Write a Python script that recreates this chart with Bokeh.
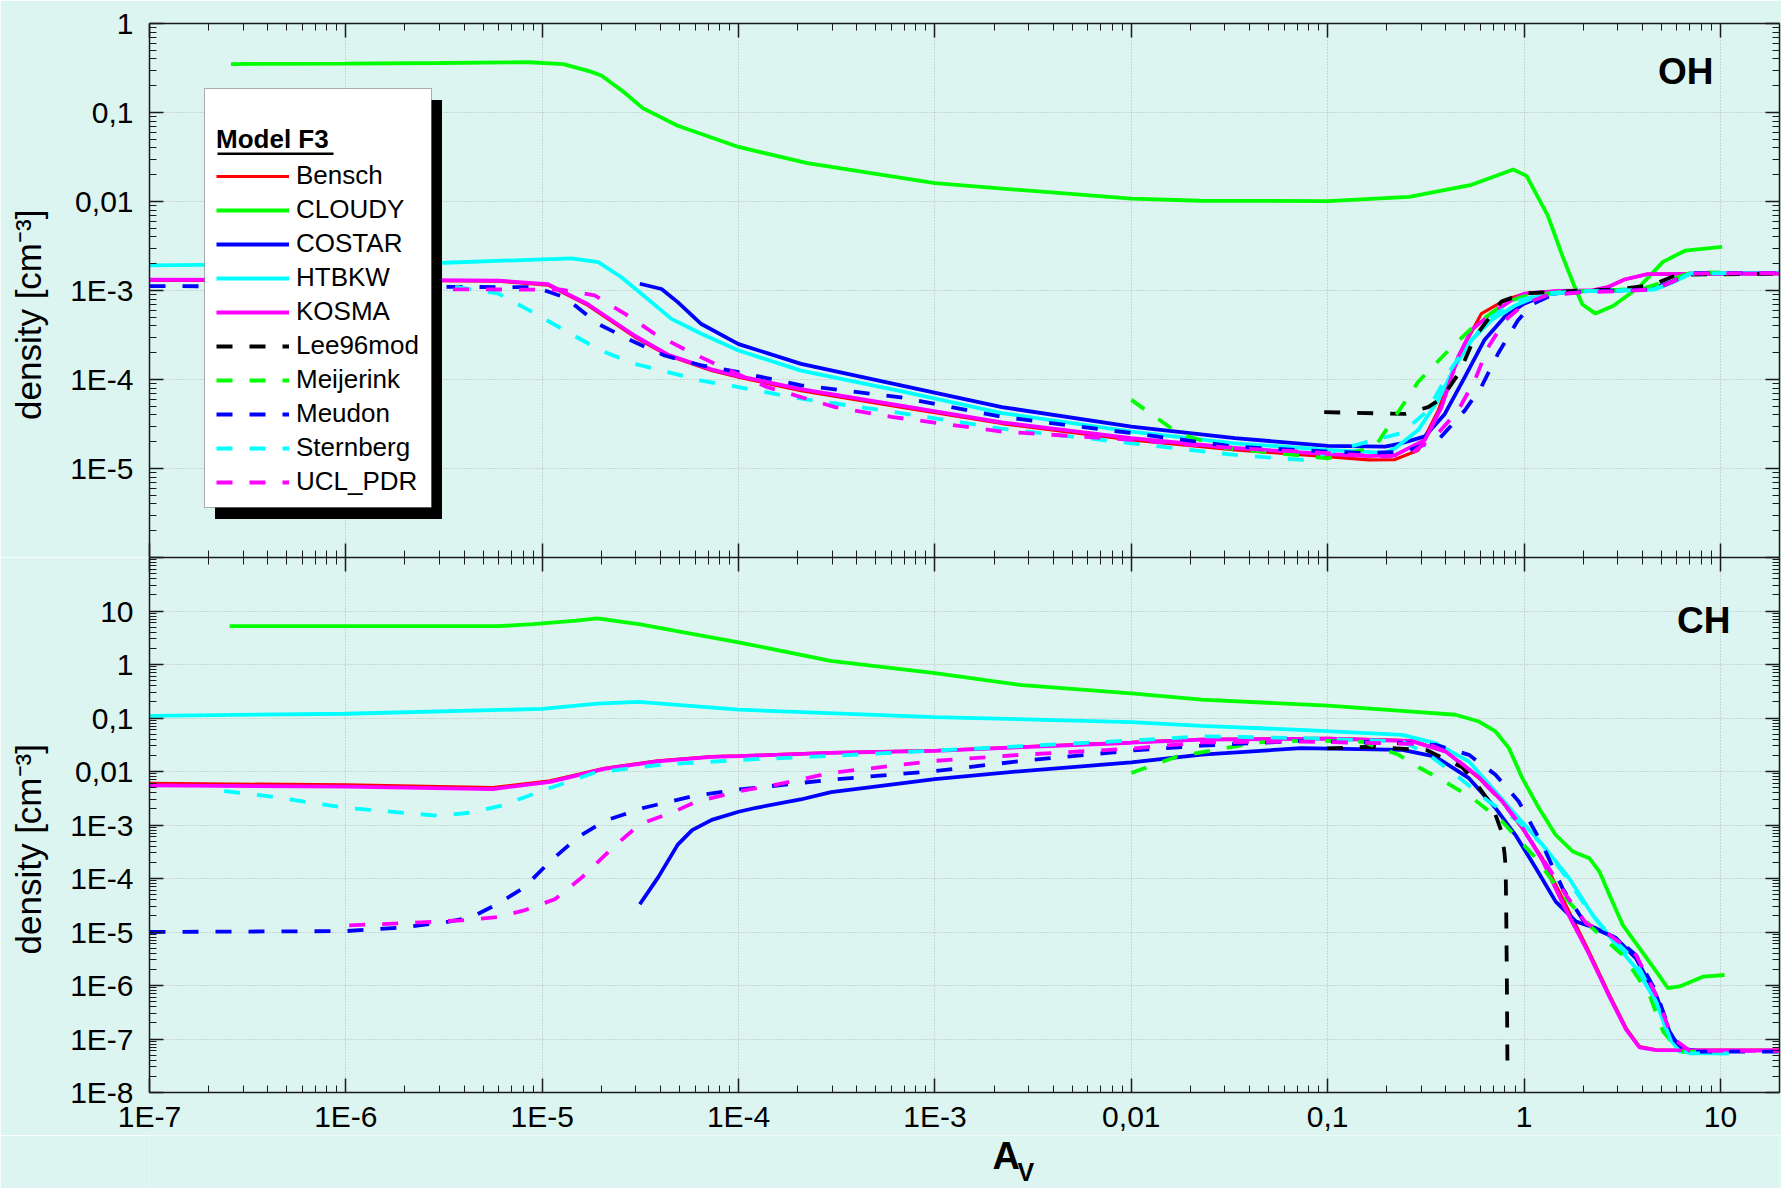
from bokeh.plotting import figure
from bokeh.models import (LogAxis, FixedTicker, CustomJSTickFormatter, CustomLabelingPolicy,
                          Legend, LegendItem, BoxAnnotation, Label, Range1d)
from bokeh.layouts import column
from bokeh.embed import file_html
from bokeh.resources import INLINE

# ---------------------------------------------------------------- data
MODELS = ["Bensch", "CLOUDY", "COSTAR", "HTBKW", "KOSMA",
          "Lee96mod", "Meijerink", "Meudon", "Sternberg", "UCL_PDR"]
COLORS = ["#FF0000", "#00FF00", "#0000FF", "#00FFFF", "#FF00FF",
          "#000000", "#00FF00", "#0000FF", "#00FFFF", "#FF00FF"]
DASHED = [False, False, False, False, False, True, True, True, True, True]

X_LO, X_HI = 1e-7, 20
OH_Y_LO, OH_Y_HI = 1e-6, 1
CH_Y_LO, CH_Y_HI = 1e-8, 100

# ---- OH panel
OH_BENSCH_X = [1e-7, 2.8e-6, 6e-6, 1.07e-5, 1.71e-5, 2.96e-5, 4.37e-5, 7.26e-5, 1e-4, 2.08e-4, 6.7e-4, 2.19e-3, 0.01, 0.0337, 0.1, 0.161, 0.22, 0.289, 0.366, 0.462, 0.607, 0.8, 1.0, 1.5, 2.2, 2.7, 3.25, 4.25, 20]
OH_BENSCH_Y = [1.3e-3, 1.29e-3, 1.27e-3, 1.15e-3, 6.8e-4, 3.0e-4, 1.86e-4, 1.26e-4, 1.06e-4, 7.5e-5, 4.9e-5, 3.2e-5, 2.1e-5, 1.62e-5, 1.36e-5, 1.25e-5, 1.26e-5, 1.6e-5, 4.5e-5, 1.8e-4, 5.5e-4, 7.8e-4, 9.2e-4, 9.9e-4, 1.0e-3, 1.1e-3, 1.33e-3, 1.53e-3, 1.55e-3]
OH_CLOUDY_X = [2.6e-7, 1e-6, 3e-6, 8.6e-6, 1.28e-5, 1.75e-5, 2e-5, 2.6e-5, 3.25e-5, 4.9e-5, 1e-4, 2.24e-4, 1e-3, 2.8e-3, 0.01, 0.0225, 0.1, 0.26, 0.54, 0.7, 0.88, 1.03, 1.32, 1.58, 1.81, 1.98, 2.31, 2.84, 3.87, 5.1, 6.6, 10.2]
OH_CLOUDY_Y = [0.35, 0.355, 0.36, 0.367, 0.35, 0.29, 0.26, 0.17, 0.112, 0.071, 0.041, 0.027, 0.0161, 0.0134, 0.0108, 0.0102, 0.0101, 0.0113, 0.0154, 0.019, 0.0229, 0.0194, 0.0070, 0.00234, 0.0011, 0.0007, 0.00055, 0.00067, 0.0011, 0.0021, 0.0028, 0.0031]
OH_COSTAR_X = [3.14e-5, 4.05e-5, 4.9e-5, 6.46e-5, 1e-4, 2.08e-4, 6.7e-4, 2.19e-3, 0.01, 0.0337, 0.1, 0.196, 0.238, 0.313, 0.395, 0.5, 0.63, 0.8, 1.0, 1.3, 1.8, 3.0, 4.5, 5.8, 7.0, 20]
OH_COSTAR_Y = [1.19e-3, 1.04e-3, 7.4e-4, 4.2e-4, 2.5e-4, 1.5e-4, 8.6e-5, 4.9e-5, 2.95e-5, 2.19e-5, 1.8e-5, 1.76e-5, 1.92e-5, 2.3e-5, 4.1e-5, 1.07e-4, 2.8e-4, 5.1e-4, 7.1e-4, 9.0e-4, 9.8e-4, 1.0e-3, 1.05e-3, 1.28e-3, 1.55e-3, 1.57e-3]
OH_HTBKW_X = [1e-7, 3.2e-6, 1.41e-5, 1.93e-5, 2.53e-5, 3.2e-5, 4.55e-5, 6.46e-5, 1e-4, 2.08e-4, 6.7e-4, 2.19e-3, 0.01, 0.0337, 0.1, 0.196, 0.22, 0.289, 0.366, 0.444, 0.54, 0.68, 0.9, 1.2, 1.8, 3.0, 4.6, 5.8, 7.0, 20]
OH_HTBKW_Y = [1.92e-3, 2.05e-3, 2.3e-3, 2.08e-3, 1.41e-3, 9.2e-4, 4.8e-4, 3.26e-4, 2.12e-4, 1.26e-4, 7.4e-5, 4.2e-5, 2.6e-5, 1.92e-5, 1.62e-5, 1.5e-5, 1.68e-5, 2.7e-5, 5.9e-5, 1.39e-4, 2.77e-4, 4.6e-4, 6.8e-4, 8.8e-4, 9.8e-4, 1.0e-3, 1.03e-3, 1.25e-3, 1.55e-3, 1.57e-3]
OH_KOSMA_X = [1e-7, 2.8e-6, 6e-6, 1.07e-5, 1.71e-5, 2.96e-5, 4.37e-5, 7.26e-5, 1e-4, 2.08e-4, 6.7e-4, 2.19e-3, 0.01, 0.0337, 0.1, 0.161, 0.22, 0.313, 0.38, 0.462, 0.54, 0.68, 0.85, 1.0, 1.5, 2.2, 2.7, 3.25, 4.25, 20]
OH_KOSMA_Y = [1.32e-3, 1.31e-3, 1.29e-3, 1.18e-3, 7.0e-4, 3.1e-4, 1.9e-4, 1.3e-4, 1.09e-4, 7.8e-5, 5.1e-5, 3.3e-5, 2.2e-5, 1.7e-5, 1.45e-5, 1.38e-5, 1.41e-5, 2.1e-5, 4.9e-5, 1.8e-4, 3.6e-4, 5.5e-4, 7.6e-4, 9.2e-4, 9.9e-4, 1.0e-3, 1.1e-3, 1.33e-3, 1.53e-3, 1.55e-3]
OH_LEE_X = [0.096, 0.247, 0.325, 0.38, 0.471, 0.561, 0.767, 1.0, 2.0, 3.0, 4.5, 6.0, 20]
OH_LEE_Y = [4.3e-5, 4.1e-5, 4.9e-5, 6.1e-5, 1.22e-4, 3.0e-4, 7.5e-4, 9.3e-4, 1.0e-3, 1.03e-3, 1.15e-3, 1.5e-3, 1.55e-3]
OH_MEIJ_X = [0.01, 0.0173, 0.03, 0.1, 0.174, 0.22, 0.289, 0.41, 0.583, 0.83, 1.0, 1.5, 2.5, 4.0, 5.5, 7.0, 10]
OH_MEIJ_Y = [5.9e-5, 2.5e-5, 1.7e-5, 1.3e-5, 1.75e-5, 3.8e-5, 9.4e-5, 2.1e-4, 4.4e-4, 7.5e-4, 8.6e-4, 9.6e-4, 1.0e-3, 1.05e-3, 1.3e-3, 1.57e-3, 1.6e-3]
OH_MEUDON_X = [1e-7, 9.2e-6, 1.3e-5, 1.93e-5, 2.84e-5, 4.2e-5, 6.46e-5, 1e-4, 2.08e-4, 6.7e-4, 2.19e-3, 0.01, 0.0337, 0.1, 0.161, 0.247, 0.366, 0.5, 0.607, 0.738, 0.93, 1.1, 1.4, 2.0, 3.0, 4.6, 5.8, 7.0, 20]
OH_MEUDON_Y = [1.12e-3, 1.09e-3, 8.4e-4, 4.2e-4, 2.74e-4, 1.86e-4, 1.44e-4, 1.21e-4, 8.6e-5, 6.3e-5, 3.8e-5, 2.5e-5, 1.76e-5, 1.55e-5, 1.49e-5, 1.55e-5, 2.1e-5, 4.5e-5, 8.3e-5, 1.96e-4, 4.6e-4, 7.0e-4, 9.0e-4, 9.7e-4, 1.0e-3, 1.03e-3, 1.28e-3, 1.57e-3, 1.57e-3]
OH_STERN_X = [2.4e-7, 3.7e-6, 6e-6, 9.2e-6, 1.35e-5, 2e-5, 2.96e-5, 4.37e-5, 6.46e-5, 1e-4, 2.08e-4, 6.7e-4, 2.19e-3, 0.01, 0.0337, 0.074, 0.161, 0.238, 0.325, 0.41, 0.52, 0.68, 0.9, 1.3, 2.0, 3.0, 4.6, 5.8, 7.0, 11]
OH_STERN_Y = [1.1e-3, 1.09e-3, 9.2e-4, 5.5e-4, 3.4e-4, 2.1e-4, 1.5e-4, 1.21e-4, 9.7e-5, 8.2e-5, 6.1e-5, 4.2e-5, 2.8e-5, 1.92e-5, 1.42e-5, 1.25e-5, 2.0e-5, 2.5e-5, 4.5e-5, 1.17e-4, 2.5e-4, 5.0e-4, 7.5e-4, 9.3e-4, 9.8e-4, 1.0e-3, 1.03e-3, 1.25e-3, 1.55e-3, 1.57e-3]
OH_UCL_X = [1.1e-6, 1.25e-5, 1.85e-5, 2.63e-5, 3.74e-5, 5.5e-5, 8.2e-5, 1.4e-4, 3.1e-4, 6e-4, 2.19e-3, 0.01, 0.0337, 0.1, 0.196, 0.267, 0.366, 0.462, 0.561, 0.656, 0.8, 1.0, 1.3, 2.0, 3.0, 4.6, 5.8, 7.0, 20]
OH_UCL_Y = [1.04e-3, 1.02e-3, 8.8e-4, 5.5e-4, 3.26e-4, 2.1e-4, 1.38e-4, 8.2e-5, 4.9e-5, 3.8e-5, 2.6e-5, 2.1e-5, 1.69e-5, 1.49e-5, 1.36e-5, 1.47e-5, 2.5e-5, 4.5e-5, 9.8e-5, 2.3e-4, 4.6e-4, 7.0e-4, 8.8e-4, 9.6e-4, 9.8e-4, 1.03e-3, 1.28e-3, 1.55e-3, 1.57e-3]

# ---- CH panel
CH_BENSCH_X = [1e-7, 1e-6, 5.6e-6, 1.1e-5, 2.07e-5, 3.87e-5, 7.3e-5, 1e-4, 2.96e-4, 1e-3, 0.01, 0.0228, 0.1, 0.267, 0.4, 0.59, 0.774, 0.98, 1.24, 1.6, 2.1, 2.72, 3.31, 3.87, 4.7, 20]
CH_BENSCH_Y = [6.0e-3, 5.6e-3, 5.0e-3, 6.7e-3, 0.0115, 0.0158, 0.019, 0.0196, 0.0225, 0.0246, 0.035, 0.040, 0.0417, 0.038, 0.0237, 7.5e-3, 2.75e-3, 8.7e-4, 2.4e-4, 3.7e-5, 5e-6, 6.7e-7, 1.6e-7, 7.2e-8, 6.3e-8, 6.2e-8]
CH_CLOUDY_X = [2.56e-7, 1e-6, 6e-6, 9e-6, 1.49e-5, 1.9e-5, 3.1e-5, 1e-4, 2.94e-4, 1e-3, 2.79e-3, 0.01, 0.0228, 0.1, 0.239, 0.448, 0.59, 0.716, 0.838, 0.98, 1.19, 1.45, 1.77, 2.15, 2.42, 2.72, 3.18, 3.87, 4.71, 5.4, 6.2, 8.2, 10.5]
CH_CLOUDY_Y = [5.2, 5.2, 5.2, 5.7, 6.6, 7.3, 5.7, 2.6, 1.17, 0.69, 0.41, 0.288, 0.221, 0.17, 0.136, 0.115, 0.086, 0.056, 0.0273, 7.5e-3, 2.07e-3, 6.5e-4, 3.2e-4, 2.4e-4, 1.35e-4, 4.95e-5, 1.36e-5, 5e-6, 1.83e-6, 8.9e-7, 9.6e-7, 1.47e-6, 1.57e-6]
CH_COSTAR_X = [3.14e-5, 3.9e-5, 4.9e-5, 5.8e-5, 7.3e-5, 1e-4, 1.23e-4, 2.07e-4, 2.96e-4, 1e-3, 2.79e-3, 0.01, 0.0228, 0.073, 0.24, 0.354, 0.524, 0.716, 0.905, 1.15, 1.45, 1.84, 2.32, 2.94, 3.72, 4.7, 5.5, 6.2, 8.2, 11]
CH_COSTAR_Y = [3.3e-5, 1.06e-4, 4.3e-4, 8.0e-4, 1.25e-3, 1.77e-3, 2.1e-3, 3.0e-3, 4.1e-3, 7.2e-3, 0.0102, 0.0148, 0.0206, 0.0273, 0.0254, 0.019, 7.5e-3, 2.07e-3, 6.5e-4, 1.56e-4, 3.7e-5, 1.57e-5, 1.18e-5, 7.7e-6, 3.2e-6, 6.7e-7, 1.4e-7, 6.7e-8, 5.8e-8, 5.8e-8]
CH_HTBKW_X = [1e-7, 1e-6, 1e-5, 1.9e-5, 3.1e-5, 1e-4, 1e-3, 0.01, 0.0228, 0.073, 0.24, 0.354, 0.524, 0.716, 0.94, 1.24, 1.7, 2.23, 2.94, 3.72, 4.7, 5.5, 6.2, 8.2, 11]
CH_HTBKW_Y = [0.11, 0.12, 0.148, 0.185, 0.2, 0.143, 0.104, 0.084, 0.071, 0.06, 0.0484, 0.034, 0.0154, 4.2e-3, 1.34e-3, 4.3e-4, 1.0e-4, 2.1e-5, 5.8e-6, 2.1e-6, 5e-7, 1.04e-7, 5.8e-8, 5.4e-8, 5.4e-8]
CH_KOSMA_X = [1e-7, 1e-6, 5.6e-6, 1.1e-5, 2.07e-5, 3.87e-5, 7.3e-5, 1e-4, 2.96e-4, 1e-3, 0.01, 0.0228, 0.1, 0.267, 0.4, 0.59, 0.774, 0.98, 1.24, 1.6, 2.1, 2.72, 3.31, 3.87, 4.7, 20]
CH_KOSMA_Y = [5.5e-3, 5.2e-3, 4.7e-3, 6.4e-3, 0.0112, 0.0155, 0.0188, 0.0194, 0.0222, 0.0244, 0.0345, 0.0395, 0.041, 0.037, 0.0235, 7.8e-3, 2.8e-3, 9.0e-4, 2.2e-4, 3.0e-5, 4.5e-6, 6.2e-7, 1.5e-7, 7.0e-8, 6.2e-8, 6.1e-8]
CH_LEE_X = [0.099, 0.17, 0.32, 0.42, 0.484, 0.55, 0.689, 0.77, 0.795, 0.806, 0.812, 0.818, 0.824]
CH_LEE_Y = [0.027, 0.029, 0.025, 0.0155, 0.012, 7.2e-3, 2.3e-3, 7.3e-4, 3.0e-4, 1.7e-4, 2e-5, 1e-6, 1.95e-8]
CH_MEIJ_X = [0.01, 0.017, 0.044, 0.079, 0.15, 0.23, 0.29, 0.368, 0.545, 0.774, 1.15, 1.57, 2.23, 3.18, 4.35, 5.1, 6.2, 10]
CH_MEIJ_Y = [9.4e-3, 0.0189, 0.035, 0.038, 0.036, 0.0205, 0.012, 7.5e-3, 3.2e-3, 1.16e-3, 2.4e-4, 5e-5, 1.18e-5, 3.7e-6, 6.7e-7, 1.4e-7, 5.8e-8, 5.8e-8]
CH_MEUDON_X = [1e-7, 1e-6, 1.85e-6, 3.1e-6, 4.3e-6, 5.9e-6, 8.05e-6, 1.1e-5, 1.51e-5, 2.07e-5, 3.3e-5, 5.9e-5, 1e-4, 2.94e-4, 1e-3, 2.79e-3, 0.01, 0.0228, 0.073, 0.24, 0.354, 0.524, 0.716, 0.94, 1.24, 1.57, 2.07, 2.94, 3.72, 4.7, 5.7, 6.7, 20]
CH_MEUDON_Y = [1.0e-5, 1.04e-5, 1.2e-5, 1.49e-5, 1.85e-5, 3.3e-5, 6.7e-5, 2.1e-4, 5.8e-4, 1.19e-3, 2.1e-3, 3.5e-3, 4.6e-3, 7.0e-3, 0.0102, 0.0158, 0.0246, 0.0304, 0.0374, 0.0339, 0.0315, 0.0205, 8.7e-3, 2.75e-3, 4.3e-4, 6.6e-5, 1.36e-5, 7.7e-6, 3.7e-6, 7.7e-7, 1.04e-7, 5.8e-8, 5.8e-8]
CH_STERN_X = [2.4e-7, 3.9e-7, 1e-6, 3e-6, 4.3e-6, 6.2e-6, 9.9e-6, 1.86e-5, 4.3e-5, 1.23e-4, 2.96e-4, 1e-3, 0.01, 0.0228, 0.074, 0.24, 0.327, 0.448, 0.66, 0.94, 1.24, 1.7, 2.15, 2.82, 3.72, 4.7, 5.7, 6.97, 11]
CH_STERN_Y = [4.3e-3, 3.5e-3, 2.1e-3, 1.48e-3, 1.7e-3, 2.3e-3, 4.3e-3, 9.6e-3, 0.0137, 0.017, 0.0196, 0.0246, 0.038, 0.0455, 0.042, 0.0364, 0.0205, 8.7e-3, 2.75e-3, 1.16e-3, 4.3e-4, 8.8e-5, 2.4e-5, 7.7e-6, 2.8e-6, 5e-7, 7.8e-8, 5.4e-8, 5.4e-8]
CH_UCL_X = [1.04e-6, 1.85e-6, 3.9e-6, 5.9e-6, 8e-6, 1.16e-5, 1.59e-5, 2.29e-5, 3.14e-5, 4.8e-5, 6.1e-5, 1e-4, 1.6e-4, 2.94e-4, 1e-3, 2.79e-3, 0.01, 0.0228, 0.073, 0.327, 0.414, 0.567, 0.774, 0.98, 1.24, 1.63, 2.07, 2.72, 3.72, 4.7, 5.7, 7.0, 20]
CH_UCL_Y = [1.33e-5, 1.45e-5, 1.65e-5, 1.9e-5, 2.5e-5, 4.1e-5, 1.04e-4, 3.8e-4, 1.03e-3, 1.84e-3, 2.74e-3, 4.25e-3, 5.8e-3, 9.4e-3, 0.0158, 0.0206, 0.0268, 0.035, 0.0364, 0.0324, 0.022, 8.7e-3, 2.75e-3, 8.7e-4, 2.4e-4, 5e-5, 1.46e-5, 8.9e-6, 3.7e-6, 6.7e-7, 1.04e-7, 6e-8, 6e-8]

OH_X = [OH_BENSCH_X, OH_CLOUDY_X, OH_COSTAR_X, OH_HTBKW_X, OH_KOSMA_X, OH_LEE_X, OH_MEIJ_X, OH_MEUDON_X, OH_STERN_X, OH_UCL_X]
OH_Y = [OH_BENSCH_Y, OH_CLOUDY_Y, OH_COSTAR_Y, OH_HTBKW_Y, OH_KOSMA_Y, OH_LEE_Y, OH_MEIJ_Y, OH_MEUDON_Y, OH_STERN_Y, OH_UCL_Y]
CH_X = [CH_BENSCH_X, CH_CLOUDY_X, CH_COSTAR_X, CH_HTBKW_X, CH_KOSMA_X, CH_LEE_X, CH_MEIJ_X, CH_MEUDON_X, CH_STERN_X, CH_UCL_X]
CH_Y = [CH_BENSCH_Y, CH_CLOUDY_Y, CH_COSTAR_Y, CH_HTBKW_Y, CH_KOSMA_Y, CH_LEE_Y, CH_MEIJ_Y, CH_MEUDON_Y, CH_STERN_Y, CH_UCL_Y]

# ---------------------------------------------------------------- style
BG = "#DDF5F0"
FONT = "Liberation Sans"
AX_COLOR = "#1a1a1a"
W = 1781
LEFT_B, RIGHT_B = 149, 2
TOP_B = 23
H_TOP, H_BOT = 534, 536
BOTTOM_B = 42
H_TITLE = 53          # strip below the lower panel that carries the x title
FRAME_W = W - LEFT_B - RIGHT_B
NBSP = "\u00a0"
BASELINE_FIX = 0.38   # Label "alphabetic" anchor sits this many em below the wanted baseline


def decade_ticker(e0, e1):
    majors = [10.0 ** e for e in range(e0, e1 + 1)]
    minors = [m * 10.0 ** e for e in range(e0, e1 + 1) for m in range(2, 10)]
    return FixedTicker(ticks=majors, minor_ticks=minors)


def decade_formatter(lo, hi):
    return CustomJSTickFormatter(code=f"""
const e = Math.round(Math.log10(tick));
if (e < {lo} || e > {hi}) return "";
if (e >= 0) return String(Math.round(Math.pow(10, e)));
if (e >= -2) return "0," + "0".repeat(-e - 1) + "1";
return "1E" + e;
""")


NO_LABELS = CustomLabelingPolicy(code="return new Set();")


def style_axis(ax, ticker, formatter, show_labels):
    ax.ticker = ticker
    ax.formatter = formatter
    ax.major_tick_in = 14
    ax.major_tick_out = 0
    ax.minor_tick_in = 7
    ax.minor_tick_out = 0
    ax.axis_line_color = AX_COLOR
    ax.axis_line_width = 1.5
    ax.major_tick_line_color = AX_COLOR
    ax.major_tick_line_width = 1.5
    ax.minor_tick_line_color = AX_COLOR
    ax.minor_tick_line_width = 1
    ax.major_label_text_font = FONT
    ax.major_label_text_color = "black"
    if show_labels:
        ax.major_label_text_font_size = "30px"
    else:
        ax.major_label_text_font_size = "0px"
        ax.major_label_standoff = 0
        ax.major_label_policy = NO_LABELS


def make_panel(y_lo, y_hi, frame_h, top_b, bottom_b, ye0, ye1, lab_lo, lab_hi, show_x):
    p = figure(width=W, height=frame_h + top_b + bottom_b, title=None,
               x_axis_type="log", y_axis_type="log",
               x_range=Range1d(X_LO, X_HI), y_range=Range1d(y_lo, y_hi),
               output_backend="svg", toolbar_location=None,
               min_border_left=LEFT_B, min_border_right=RIGHT_B,
               min_border_top=top_b, min_border_bottom=bottom_b,
               background_fill_color=BG, border_fill_color=BG,
               outline_line_color=None)
    xt = decade_ticker(-7, 1)
    yt = decade_ticker(ye0, ye1)
    xb = p.xaxis[0]
    yl = p.yaxis[0]
    xa = LogAxis()
    yr = LogAxis()
    p.add_layout(xa, "above")
    p.add_layout(yr, "right")
    style_axis(xb, xt, decade_formatter(-7, 1), show_x)
    style_axis(xa, xt, decade_formatter(-7, 1), False)
    style_axis(yl, yt, decade_formatter(lab_lo, lab_hi), True)
    style_axis(yr, yt, decade_formatter(lab_lo, lab_hi), False)
    xb.major_label_standoff = 7
    yl.major_label_standoff = 16
    # trailing no-break spaces push the rotated title slightly down, as in the reference
    yl.axis_label = "density [cm\u207b\u00b3]" + NBSP * 5
    yl.axis_label_text_font = FONT
    yl.axis_label_text_font_size = "35px"
    yl.axis_label_text_font_style = "normal"
    yl.axis_label_text_color = "black"
    yl.axis_label_standoff = 19
    for g, t in ((p.xgrid[0], xt), (p.ygrid[0], yt)):
        g.ticker = t
        g.grid_line_color = "#b4b4b4"
        g.grid_line_dash = "1 2"
        g.grid_line_width = 1
    return p


p1 = make_panel(OH_Y_LO, OH_Y_HI, H_TOP, TOP_B, 0, -6, 0, -5, 0, False)
p2 = make_panel(CH_Y_LO, CH_Y_HI, H_BOT, 0, BOTTOM_B, -8, 2, -8, 1, True)

oh_renderers = []
for name, col, dashed, ox, oy, cx, cy in zip(MODELS, COLORS, DASHED, OH_X, OH_Y, CH_X, CH_Y):
    lw = 3.2 if name == "Bensch" else 3.8
    dash = "16 17" if dashed else "solid"
    r = p1.line(ox, oy, line_color=col, line_width=lw, line_dash=dash)
    oh_renderers.append(r)
    p2.line(cx, cy, line_color=col, line_width=lw, line_dash=dash)

# ---------------------------------------------------------------- legend (shadow + box + legend + underline)
BOX_L, BOX_R, BOX_T, BOX_B = 55, 282, 65, 484      # offsets from frame left / frame top
SH_DX, SH_DY = 10.5, 11.5
shadow = BoxAnnotation(left=BOX_L + SH_DX, right=BOX_R + SH_DX,
                       top=H_TOP - (BOX_T + SH_DY), bottom=H_TOP - (BOX_B + SH_DY),
                       left_units="screen", right_units="screen",
                       top_units="screen", bottom_units="screen",
                       fill_color="black", fill_alpha=1, line_color=None)
box = BoxAnnotation(left=BOX_L, right=BOX_R, top=H_TOP - BOX_T, bottom=H_TOP - BOX_B,
                    left_units="screen", right_units="screen",
                    top_units="screen", bottom_units="screen",
                    fill_color="white", fill_alpha=1, line_color="black", line_width=1)
p1.add_layout(shadow)
p1.add_layout(box)

legend = Legend(items=[LegendItem(label=n, renderers=[r]) for n, r in zip(MODELS, oh_renderers)],
                location=(67, 60), title="Model F3",
                title_text_font=FONT, title_text_font_size="26px", title_text_font_style="bold",
                title_text_color="black", title_standoff=5,
                label_text_font=FONT, label_text_font_size="26px", label_text_color="black",
                label_height=30, glyph_height=30, glyph_width=73, label_standoff=7,
                spacing=3, padding=0, margin=0,
                background_fill_alpha=0, border_line_alpha=0)
p1.add_layout(legend)

underline = BoxAnnotation(left=68, right=184, top=H_TOP - 129, bottom=H_TOP - 131.5,
                          left_units="screen", right_units="screen",
                          top_units="screen", bottom_units="screen",
                          fill_color="black", fill_alpha=1, line_color=None)
p1.add_layout(underline)


def text_label(x, baseline_from_bottom, text, size):
    return Label(x=x, y=baseline_from_bottom + BASELINE_FIX * size,
                 x_units="screen", y_units="screen",
                 text=text, text_font=FONT, text_font_size=f"{size}px", text_font_style="bold",
                 text_align="right" if text in ("OH", "CH") else "left",
                 text_baseline="alphabetic", text_color="black")


# ---------------------------------------------------------------- panel labels
p1.add_layout(text_label(FRAME_W - 66, H_TOP - 62, "OH", 37))
p2.add_layout(text_label(FRAME_W - 49, H_BOT - 78, "CH", 37))

# ---------------------------------------------------------------- x-axis title strip (A with subscript V)
p3 = figure(width=W, height=H_TITLE, title=None, x_range=Range1d(0, 1), y_range=Range1d(0, 1),
            output_backend="svg", toolbar_location=None,
            x_axis_location=None, y_axis_location=None,
            min_border_left=LEFT_B, min_border_right=RIGHT_B,
            min_border_top=0, min_border_bottom=0,
            background_fill_color=BG, border_fill_color=BG, outline_line_color=None)
for g in p3.grid:
    g.visible = False
A_BASE, V_BASE = 35, 46     # baselines below the top of the strip
p3.add_layout(text_label(843, H_TITLE - A_BASE, "A", 38))
p3.add_layout(text_label(868, H_TITLE - V_BASE, "V", 25))

layout = column(p1, p2, p3, spacing=0)
open("out.html", "w").write(file_html(layout, INLINE, title="OH and CH densities"))
